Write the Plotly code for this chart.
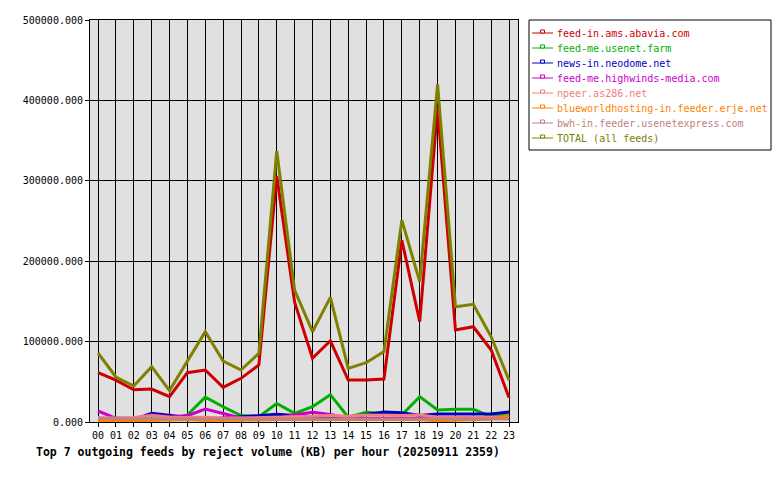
import plotly.graph_objects as go

hours = [f"{h:02d}" for h in range(24)]

abavia = [61300, 52000, 40000, 41000, 31500, 61300, 64700, 43100, 54300, 70900, 306000, 149000,
          79200, 101000, 52200, 52200, 53500, 226000, 124800, 391000, 114400, 118500, 89500, 30200]
usenet_farm = [2000, 4600, 4000, 3500, 3500, 8700, 31000, 19000, 8000, 6600, 23000, 10800,
               19000, 34000, 6000, 12000, 10800, 8700, 31500, 15000, 16000, 16000, 6600, 8700]
neodome = [2000, 2500, 3000, 10800, 8000, 6000, 3000, 5000, 6600, 8000, 9500, 8000,
           6600, 7000, 5000, 9500, 12500, 11500, 8000, 10000, 10000, 10800, 10000, 12500]
highwinds = [13700, 4600, 4500, 8700, 6600, 7800, 16000, 10800, 5000, 5000, 4500, 8700,
             12000, 9500, 5000, 4500, 4500, 4500, 5000, 5000, 4600, 5000, 4600, 6000]
npeer = [5500, 5000, 5500, 8000, 6000, 5500, 6000, 5000, 5000, 5500, 6000, 6000,
         7000, 8000, 7000, 8700, 8000, 8000, 8700, 6000, 6000, 6000, 6000, 6000]
blueworld = [1500, 1500, 2000, 2000, 2500, 3000, 2000, 2000, 2500, 2500, 3000, 3000,
             3000, 3000, 3000, 3000, 3000, 3000, 3000, 1500, 2500, 3000, 3700, 8000]
bwh = [4500, 3700, 3700, 3700, 3700, 3700, 3700, 3700, 3700, 3700, 3700, 3700,
       3700, 3700, 3700, 3700, 3700, 3700, 3700, 3700, 3700, 3700, 3700, 3700]
total = [85800, 56000, 44800, 68800, 39000, 75000, 112300, 75900, 64700, 85400, 337000, 164000,
         112300, 155000, 66700, 73800, 87500, 251000, 174500, 420000, 143400, 146400, 106000, 52000]

names = ["feed-in.ams.abavia.com", "feed-me.usenet.farm", "news-in.neodome.net",
         "feed-me.highwinds-media.com", "npeer.as286.net",
         "blueworldhosting-in.feeder.erje.net", "bwh-in.feeder.usenetexpress.com",
         "TOTAL (all feeds)"]
series = [abavia, usenet_farm, neodome, highwinds, npeer, blueworld, bwh, total]
colors = ["#cc0000", "#00b000", "#0000c0", "#cc00cc", "#f08080", "#ff8000", "#c08080", "#808000"]

FONT = "DejaVu Sans Mono"
W, H = 780, 480
L, R, T, B = 90, 262, 20, 58
PW, PH = W - L - R, H - T - B


def px(xp):
    return (xp - L) / PW


def py(yp):
    return (H - B - yp) / PH


fig = go.Figure()

for i in range(len(series)):
    fig.add_trace(go.Scatter(x=hours, y=series[i], mode="lines",
                             line=dict(color=colors[i], width=3),
                             showlegend=False, hoverinfo="skip", name=names[i]))

# manual legend
shapes = [dict(type="rect", xref="paper", yref="paper", x0=px(529), x1=px(771),
               y0=py(150), y1=py(20), line=dict(color="black", width=1), fillcolor="white", layer="above")]
annotations = []
for k, (nm, c) in enumerate(zip(names, colors)):
    yc = 33 + 15 * k
    shapes.append(dict(type="line", xref="paper", yref="paper", x0=px(532), x1=px(553),
                       y0=py(yc), y1=py(yc), line=dict(color=c, width=1), layer="above"))
    shapes.append(dict(type="rect", xref="paper", yref="paper", x0=px(540.5), x1=px(544.5),
                       y0=py(yc), y1=py(yc - 3), line=dict(color=c, width=1), fillcolor="white",
                       layer="above"))
    annotations.append(dict(text=nm, xref="paper", yref="paper", x=px(555), y=py(yc),
                            xanchor="left", yanchor="middle", showarrow=False,
                            font=dict(family=FONT, size=10, color=c)))

annotations.append(dict(text="<b>Top 7 outgoing feeds by reject volume (KB) per hour (20250911 2359)</b>",
                        xref="paper", yref="paper", x=px(34), y=py(452),
                        xanchor="left", yanchor="middle", showarrow=False,
                        font=dict(family=FONT, size=11.5, color="black")))

fig.update_layout(
    width=W, height=H,
    margin=dict(l=L, r=R, t=T, b=B, autoexpand=False),
    paper_bgcolor="white", plot_bgcolor="#e0e0e0",
    font=dict(family=FONT, size=10, color="black"),
    showlegend=False,
    shapes=shapes,
    annotations=annotations,
)
fig.update_xaxes(type="category", range=[-0.45, 23.5], showgrid=True, gridcolor="black", gridwidth=1,
                 showline=True, linecolor="black", linewidth=1, mirror=True,
                 ticks="outside", ticklen=4, tickcolor="black", fixedrange=True,
                 tickfont=dict(family=FONT, size=10))
fig.update_yaxes(range=[0, 500000], dtick=100000, tickformat=".3f", showgrid=True,
                 gridcolor="black", gridwidth=1, zeroline=False,
                 showline=True, linecolor="black", linewidth=1, mirror=True,
                 ticks="outside", ticklen=4, tickcolor="black",
                 tickfont=dict(family=FONT, size=10))

fig.write_html("out.html")
